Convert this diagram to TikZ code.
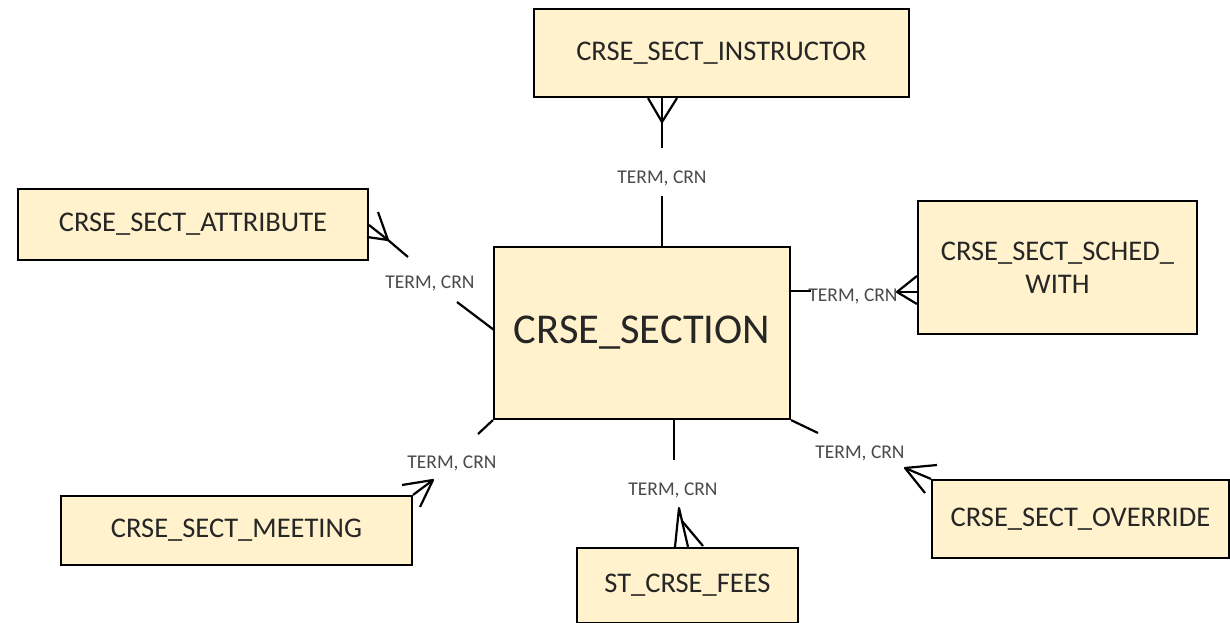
\documentclass[tikz,border=0pt]{standalone}
\usepackage{fontspec}
\setmainfont{Carlito}
\definecolor{boxfill}{HTML}{FFF2CC}
\definecolor{boxtext}{HTML}{262626}
\definecolor{labtext}{HTML}{4A4A4A}
\begin{document}
\begin{tikzpicture}[x=1pt,y=-1pt,
  entity/.style={draw=black,line width=2.2pt,fill=boxfill,text=boxtext,
    font=\fontsize{28.5}{33}\selectfont,align=center,inner sep=0pt},
  rellabel/.style={text=labtext,font=\fontsize{19.5}{21}\selectfont,inner sep=1pt},
  rel/.style={draw=black,line width=2.2pt,line join=round}]
\clip (0,0) rectangle (1230,623);
\fill[white] (0,0) rectangle (1230,623);

% entities
\node[entity,minimum width=375pt,minimum height=88pt] (instr) at (721.5,53) {CRSE\_SECT\_INSTRUCTOR};
\node[entity,minimum width=350pt,minimum height=71pt] (attr) at (193,224.5) {CRSE\_SECT\_ATTRIBUTE};
\node[entity,minimum width=296pt,minimum height=172pt,font=\fontsize{42.5}{46}\selectfont] (sect) at (642,333) {CRSE\_SECTION};
\node[entity,minimum width=279pt,minimum height=133pt] (sched) at (1057.5,267.5) {CRSE\_SECT\_SCHED\_\\WITH};
\node[entity,minimum width=351pt,minimum height=69pt] (meet) at (236.5,530.5) {CRSE\_SECT\_MEETING};
\node[entity,minimum width=221pt,minimum height=75pt] (fees) at (687.5,585.5) {ST\_CRSE\_FEES};
\node[entity,minimum width=297pt,minimum height=78pt] (over) at (1080.5,519) {CRSE\_SECT\_OVERRIDE};

% labels
\node[rellabel] (l1) at (662,178) {TERM, CRN};
\node[rellabel] (l2) at (430,283) {TERM, CRN};
\node[rellabel] (l3) at (853,296) {TERM, CRN};
\node[rellabel] (l4) at (452,463) {TERM, CRN};
\node[rellabel] (l5) at (673,490) {TERM, CRN};
\node[rellabel] (l6) at (860,453) {TERM, CRN};

% connector 1: instructor
\coordinate (v1) at (662,122);
\coordinate (e1) at (662,148);
\coordinate (s1) at (662,196);
\draw[rel] (v1) -- (e1);
\draw[rel] (s1) -- (sect.north -| s1);
\draw[rel] (instr.south -| 648,0) -- (v1) -- (instr.south -| 677,0);
\draw[rel] (instr.south -| v1) -- (v1);

% connector 2: attribute
\coordinate (v2) at (388,240);
\coordinate (e2) at (408,257);
\coordinate (s2) at (457,302);
\coordinate (t2) at (494,330);
\draw[rel] (v2) -- (e2);
\draw[rel] (s2) -- (t2);
\draw[rel] (378,212) -- (v2) -- (367,237);
\draw[rel] (369,225) -- (v2);

% connector 3: sched with
\coordinate (v3) at (897,292);
\coordinate (s3) at (811,291);
\draw[rel] (sect.east |- s3) -- (s3);
\draw[rel] (sched.west |- 0,276) -- (v3) -- (sched.west |- 0,304);
\draw[rel] (sched.west |- v3) -- (v3);

% connector 4: meeting
\coordinate (v4) at (433,480);
\coordinate (e4) at (478,434);
\draw[rel] (sect.south west) -- (e4);
\draw[rel] (402,485) -- (v4) -- (420,507);
\draw[rel] (meet.north east) -- (v4);

% connector 5: fees
\coordinate (v5) at (679,508);
\coordinate (e5) at (674,460);
\draw[rel] (sect.south -| e5) -- (e5);
\draw[rel] (fees.north -| 675,0) -- (v5) -- (fees.north -| 688,0);
\draw[rel] (682,521) -- (703,546);

% connector 6: override
\coordinate (v6) at (905,468);
\coordinate (e6) at (818,433);
\draw[rel] (sect.south east) -- (e6);
\draw[rel] (937,465) -- (v6) -- (925,493);
\draw[rel] (over.north west) -- (v6);
\end{tikzpicture}
\end{document}
